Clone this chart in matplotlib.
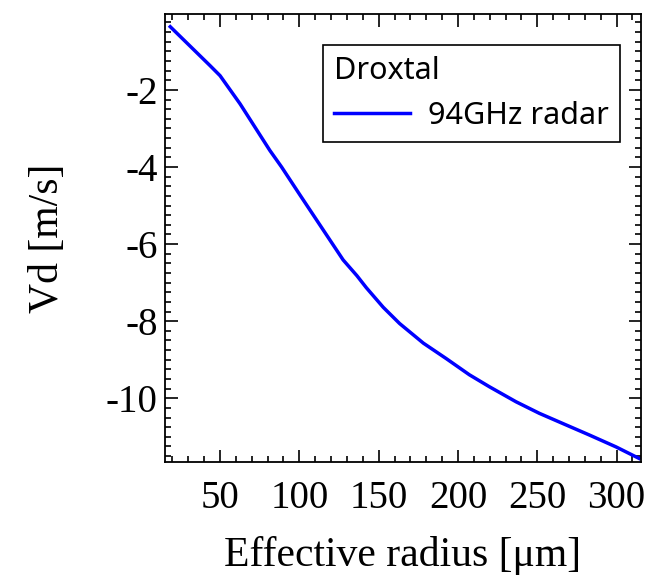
import matplotlib
matplotlib.use("Agg")
import matplotlib.pyplot as plt
from matplotlib.ticker import MultipleLocator

radius = [18.6, 43.7, 50.0, 62.6, 81.4, 88.8, 100.3, 115.0, 121.3, 127.6, 136.3,
          142.2, 152.9, 163.2, 178.2, 192.6, 207.2, 219.8, 236.6, 251.3, 268.1,
          282.7, 299.6, 314.2]
vd = [-0.36, -1.37, -1.63, -2.36, -3.57, -4.0, -4.72, -5.63, -6.02, -6.41, -6.82,
      -7.13, -7.64, -8.06, -8.57, -8.97, -9.39, -9.70, -10.09, -10.39, -10.69,
      -10.95, -11.26, -11.56]
series_label = "94GHz radar"
legend_title = "Droxtal"

plt.rcParams['axes.unicode_minus'] = False
W, H = 646, 578
fig = plt.figure(figsize=(W / 100, H / 100), dpi=100)
L, R, T, B = 164.7, 641, 14, 461.7
ax = fig.add_axes([L / W, 1 - B / H, (R - L) / W, (B - T) / H])

ax.plot(radius, vd, color='#0000ff', lw=2.5, label=series_label)
ax.set_xlim(15.1, 315.4)
ax.set_ylim(-11.645, -0.03)

ax.xaxis.set_major_locator(MultipleLocator(50))
ax.xaxis.set_minor_locator(MultipleLocator(10))
ax.yaxis.set_major_locator(MultipleLocator(2))
ax.yaxis.set_minor_locator(MultipleLocator(0.25))
ax.tick_params(which='both', direction='in', top=True, right=True, width=1.2)
ax.tick_params(which='major', length=9)
ax.tick_params(which='minor', length=4.5)
ax.tick_params(axis='x', which='major', pad=13)
ax.tick_params(axis='y', which='major', pad=5)
for s in ax.spines.values():
    s.set_linewidth(1.3)

serif = 'Liberation Serif'
for lab in ax.get_xticklabels() + ax.get_yticklabels():
    lab.set_fontfamily(serif)
    lab.set_fontsize(28)

ax.set_xlabel("Effective radius [μm]", fontfamily=serif, fontsize=30, labelpad=14)
ax.set_ylabel("Vd [m/s]", fontfamily=serif, fontsize=30, labelpad=28)

leg = ax.legend(loc='upper right', bbox_to_anchor=(0.956, 0.931), borderaxespad=0,
                title=legend_title, alignment='left', fancybox=False, framealpha=1,
                edgecolor='black', handlelength=2.5, handletextpad=0.6,
                prop={'family': 'Noto Sans', 'size': 22},
                title_fontproperties={'family': 'Noto Sans', 'size': 22},
                borderpad=0.35)
leg.get_frame().set_linewidth(1.2)

fig.savefig("out.png", dpi=100)
